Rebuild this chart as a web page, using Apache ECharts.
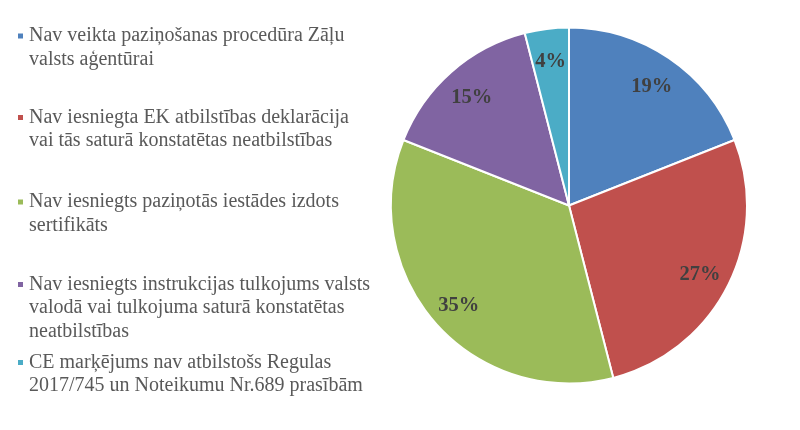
<!DOCTYPE html>
<html>
<head>
<meta charset="utf-8">
<script src="https://cdn.jsdelivr.net/npm/echarts@6/dist/echarts.min.js"></script>
<style>html,body{margin:0;padding:0;background:#fff;}#c{width:800px;height:430px;}</style>
</head>
<body>
<div id="c"></div>
<script>
var categories = [
  "Nav veikta paziņošanas procedūra Zāļu\nvalsts aģentūrai",
  "Nav iesniegta EK atbilstības deklarācija\nvai tās saturā konstatētas neatbilstības",
  "Nav iesniegts paziņotās iestādes izdots\nsertifikāts",
  "Nav iesniegts instrukcijas tulkojums valsts\nvalodā vai tulkojuma saturā konstatētas\nneatbilstības",
  "CE marķējums nav atbilstošs Regulas\n2017/745 un Noteikumu Nr.689 prasībām"
];
var values = [19, 27, 35, 15, 4];
var colors = ["#4F81BD", "#C0504D", "#9BBB59", "#8064A2", "#4BACC6"];
var legendTops = [0.75, 82.25, 166.75, 225.75, 327.25];

var FONT = "'Liberation Serif', 'Times New Roman', serif";
var LH = 23.5;
var chart = echarts.init(document.getElementById('c'), null, {renderer: 'canvas'});

var data = categories.map(function (n, i) {
  return { name: n, value: values[i], itemStyle: { color: colors[i] } };
});
var labelData = categories.map(function (n, i) {
  return { name: n, value: values[i] };
});

var legends = categories.map(function (n, i) {
  return {
    orient: 'vertical',
    left: 16,
    top: legendTops[i],
    padding: 0,
    itemWidth: 7,
    itemHeight: 7,
    icon: 'rect',
    selectedMode: false,
    data: [n],
    formatter: function (name) {
      var lines = name.split('\n').length;
      return new Array(lines).join('\n') + name;
    },
    textStyle: { fontFamily: FONT, fontSize: 20, color: '#595959', lineHeight: LH }
  };
});

chart.setOption({
  animation: false,
  legend: legends,
  series: [
    {
      type: 'pie',
      center: [569, 205.5],
      radius: [0, 178],
      startAngle: 90,
      clockwise: true,
      silent: true,
      label: { show: false },
      labelLine: { show: false },
      itemStyle: { borderColor: '#ffffff', borderWidth: 2 },
      data: data
    },
    {
      type: 'pie',
      center: [569, 208],
      radius: [110, 178],
      startAngle: 90,
      clockwise: true,
      silent: true,
      itemStyle: { color: 'rgba(0,0,0,0)', borderWidth: 0 },
      label: {
        show: true,
        position: 'inside',
        formatter: '{c}%',
        fontFamily: FONT,
        fontSize: 20.5,
        fontWeight: 'bold',
        color: '#404040'
      },
      labelLine: { show: false },
      data: labelData
    }
  ]
});
</script>
</body>
</html>
